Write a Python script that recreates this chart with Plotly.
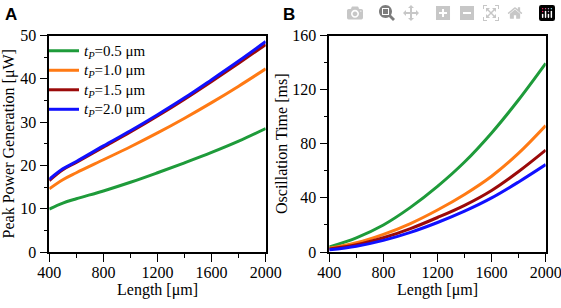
import plotly.graph_objects as go

# ---- data ----
length_a = [400, 500, 600, 800, 1000, 1200, 1400, 1600, 1800, 2000]
power_05 = [9.9, 11.3, 12.3, 14.1, 16.1, 18.3, 20.6, 23.0, 25.6, 28.5]
power_10 = [14.6, 16.7, 18.3, 21.3, 24.3, 27.5, 30.9, 34.5, 38.3, 42.3]
power_15 = [16.5, 19.0, 20.7, 24.2, 27.7, 31.4, 35.3, 39.4, 43.6, 47.9]
power_20 = [16.8, 19.2, 20.9, 24.5, 28.0, 31.7, 35.6, 39.8, 44.1, 48.6]

length_b = [400, 600, 800, 1000, 1200, 1400, 1600, 1800, 2000]
time_05 = [3.8, 10.5, 20.0, 33.0, 48.5, 66.5, 88.0, 112.5, 139.4]
time_10 = [2.8, 6.8, 13.0, 21.0, 31.0, 42.5, 56.0, 73.0, 93.4]
time_15 = [2.2, 5.3, 10.5, 17.3, 25.5, 34.5, 45.5, 59.5, 75.3]
time_20 = [1.6, 4.3, 8.6, 14.5, 21.8, 30.2, 40.0, 51.8, 64.6]

thickness = ["0.5", "1.0", "1.5", "2.0"]
labels = ["<span style='font-size:15px'><i>t<sub>P</sub></i>=%s μm</span>" % t for t in thickness]
colors = ["#1E9B3A", "#FF7A14", "#9B0A0A", "#1010FF"]

x_ticks = [400, 800, 1200, 1600, 2000]

fig = go.Figure()
for ys, name, c in zip([power_05, power_10, power_15, power_20], labels, colors):
    fig.add_trace(go.Scatter(x=length_a, y=ys, name=name, mode="lines",
                             line=dict(color=c, width=3, shape="spline", smoothing=1),
                             xaxis="x", yaxis="y"))
for ys, name, c in zip([time_05, time_10, time_15, time_20], labels, colors):
    fig.add_trace(go.Scatter(x=length_b, y=ys, name=name, mode="lines", showlegend=False,
                             line=dict(color=c, width=3, shape="spline", smoothing=1),
                             xaxis="x2", yaxis="y2"))

serif = "Times New Roman, Liberation Serif, DejaVu Serif, serif"
axis_common = dict(showline=True, linecolor="black", linewidth=1.5, mirror=True,
                   ticks="outside", ticklen=8, tickwidth=1.3, tickcolor="black",
                   showgrid=False, zeroline=False, automargin=False,
                   ticklabeloverflow="allow",
                   tickfont=dict(family=serif, size=16, color="black"))
minor_common = dict(ticks="outside", ticklen=4, tickwidth=1.2, tickcolor="black", showgrid=False)
title_font = dict(family=serif, size=16, color="black")

fig.update_layout(
    width=561, height=308, autosize=False,
    margin=dict(l=0, r=0, t=0, b=0, pad=0),
    paper_bgcolor="white", plot_bgcolor="white",
    font=dict(family=serif, size=15, color="black"),
    showlegend=True,
    legend=dict(x=44/561, y=1-36/308, xanchor="left", yanchor="top",
                bgcolor="rgba(0,0,0,0)", borderwidth=0,
                font=dict(family=serif, size=12.7, color="black"),
                tracegroupgap=0),
    xaxis=dict(domain=[49.3/561, 265.7/561], range=[400, 2000], tickvals=x_ticks,
               minor=dict(dtick=200, **minor_common), ticklabelstandoff=-3,
               title=dict(text="Length [μm]", font=title_font, standoff=3),
               anchor="y", **axis_common),
    yaxis=dict(domain=[1-252/308, 1-35.5/308], range=[0, 50], dtick=10,
               minor=dict(dtick=5, **minor_common),
               title=dict(text="Peak Power Generation [μW]", font=title_font, standoff=4),
               anchor="x", **axis_common),
    xaxis2=dict(domain=[329.3/561, 545.7/561], range=[400, 2000], tickvals=x_ticks,
                minor=dict(dtick=200, **minor_common), ticklabelstandoff=-3,
                title=dict(text="Length [μm]", font=title_font, standoff=3),
                anchor="y2", **axis_common),
    yaxis2=dict(domain=[1-252/308, 1-35.5/308], range=[0, 160], dtick=40,
                minor=dict(dtick=20, **minor_common),
                title=dict(text="Oscillation Time [ms]", font=title_font, standoff=1),
                anchor="x2", **axis_common),
    annotations=[
        dict(text="<b>A</b>", x=3/561, y=1-3/308, xref="paper", yref="paper",
             xanchor="left", yanchor="top", showarrow=False,
             font=dict(family="Liberation Sans, Arial, sans-serif", size=17, color="black")),
        dict(text="<b>B</b>", x=281/561, y=1-3/308, xref="paper", yref="paper",
             xanchor="left", yanchor="top", showarrow=False,
             font=dict(family="Liberation Sans, Arial, sans-serif", size=17, color="black")),
    ],
)

fig.write_html("out.html", post_script="document.body.style.margin='0';")
